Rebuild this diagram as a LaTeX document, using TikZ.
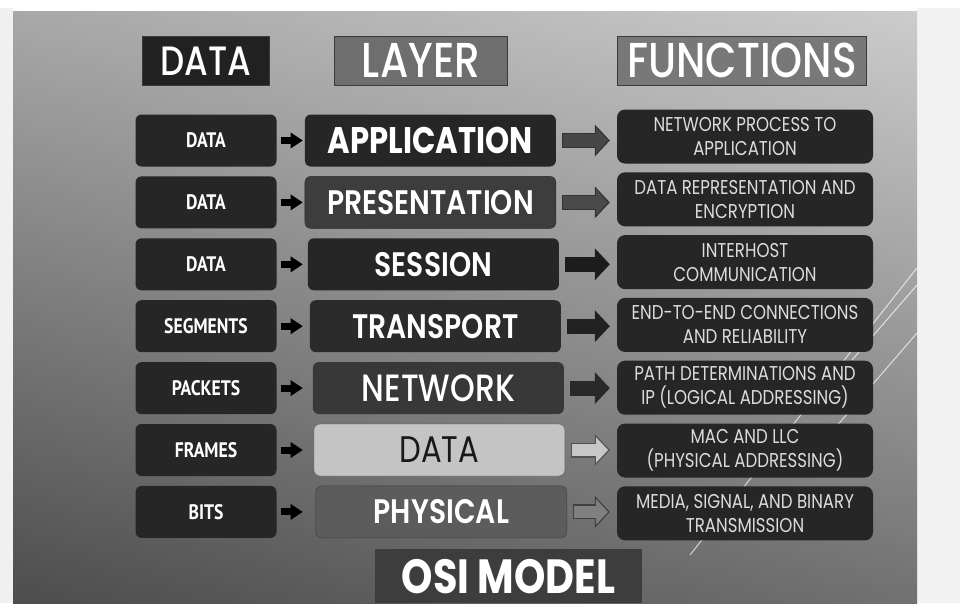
\documentclass[tikz,border=0pt]{standalone}
\usepackage{fontspec}
\setmainfont{Poppins}[FakeStretch=0.83]
\newfontfamily\medfont{Poppins Medium}[FakeStretch=0.83]
\newfontfamily\semifont{Poppins SemiBold}[FakeStretch=0.83]
\newfontfamily\unitfont{PT Sans}[FakeStretch=0.84]
\usepackage{xcolor}
\usetikzlibrary{positioning, arrows.meta}

\definecolor{slidetop}{HTML}{C4C4C4}
\definecolor{slidebot}{HTML}{5A5A5A}
\definecolor{boxdark}{HTML}{262626}
\definecolor{functext}{HTML}{DCDCDC}
\definecolor{headline}{HTML}{3A3A3A}
\definecolor{edgegray}{HTML}{333333}

\tikzset{
  unit/.style={fill=boxdark, rounded corners=6pt, minimum width=141pt, minimum height=52pt,
    inner sep=0pt, text=white, font=\unitfont\bfseries\fontsize{21}{24}\selectfont},
  layer/.style={rounded corners=6pt, minimum width=251pt, minimum height=52pt, inner sep=0pt,
    text=white, font=\semifont\fontsize{34}{40}\selectfont},
  func/.style={fill=boxdark, rounded corners=8pt, minimum width=256pt, minimum height=54pt,
    inner sep=0pt, text=functext, align=center, font=\fontsize{20}{24}\selectfont},
  title/.style={minimum height=49pt, inner sep=0pt, text=white, draw=headline, line width=1pt,
    font=\medfont\fontsize{49}{52}\selectfont},
  feed/.style={line width=7pt, -{Triangle[length=12pt,width=16pt,line width=0pt]}, shorten <=4pt},
  pass/.style={line width=15pt, -{Triangle[length=15pt,width=32pt,line width=0pt]},
    shorten <=6pt, shorten >=7pt},
  passin/.style={line width=12.4pt, -{Triangle[length=11.9pt,width=25.4pt,line width=0pt]},
    shorten <=7.3pt, shorten >=8.8pt}
}

\begin{document}
\begin{tikzpicture}[x=1pt, y=-1pt]
    \useasboundingbox (0,0) rectangle (960,603);
    % page and slide background
    \fill[white] (0,0) rectangle (960,603);
    \fill[gray!12] (0,8) rectangle (13,603);
    \fill[gray!10] (917,8) rectangle (960,603);
    \shade[top color=slidetop, bottom color=slidebot] (13,11) rectangle (917,603);
    \shade[left color=black, right color=white, opacity=0.14] (13,11) rectangle (917,603);
    \draw[white, line width=1pt, opacity=0.7] (917,268) -- (690,555);
    \draw[white, line width=1pt, opacity=0.7] (917,285) -- (852,360);
    \draw[white, line width=1pt, opacity=0.7] (917,333) -- (835,428);

		\node (d1) [unit] at (206,140.5) {DATA};
		\node[below=9.5pt of d1] (d2) [unit] {DATA};
		\node[below=9.5pt of d2] (d3) [unit] {DATA};
		\node[below=9.5pt of d3] (d4) [unit] {SEGMENTS};
		\node[below=9.5pt of d4] (d5) [unit] {PACKETS};
		\node[below=9.5pt of d5] (d6) [unit] {FRAMES};
		\node[below=9.5pt of d6] (d7) [unit] {BITS};

		\node[right=28pt of d1] (l1) [layer, fill=black!85, font=\bfseries\fontsize{37}{40}\selectfont] {APPLICATION};
		\node[right=28pt of d2] (l2) [layer, fill=black!76, draw=black!84] {PRESENTATION};
		\node[right=31pt of d3] (l3) [layer, fill=black!85] {SESSION};
		\node[right=33pt of d4] (l4) [layer, fill=black!83] {TRANSPORT};
		\node[right=36pt of d5] (l5) [layer, fill=black!78, font=\medfont\fontsize{38}{40}\selectfont] {NETWORK};
		\node[right=37pt of d6] (l6) [layer, fill=black!23, draw=black!65, text=black!90,
			font=\fontsize{37}{40}\selectfont] {DATA};
		\node[right=39pt of d7] (l7) [layer, fill=black!64, draw=black!76,
			font=\semifont\fontsize{34}{36}\selectfont] {PHYSICAL};

		\node (f1) [func] at (745,136.5) {NETWORK PROCESS TO\\APPLICATION};
		\node[below=8.4pt of f1] (f2) [func] {DATA REPRESENTATION AND\\ENCRYPTION};
		\node[below=8.4pt of f2] (f3) [func] {INTERHOST\\COMMUNICATION};
		\node[below=8.4pt of f3] (f4) [func] {END-TO-END CONNECTIONS\\AND RELIABILITY};
		\node[below=8.4pt of f4] (f5) [func] {PATH DETERMINATIONS AND\\IP (LOGICAL ADDRESSING)};
		\node[below=8.4pt of f5] (f6) [func] {MAC AND LLC\\(PHYSICAL ADDRESSING)};
		\node[below=8.4pt of f6] (f7) [func] {MEDIA, SIGNAL, AND BINARY\\TRANSMISSION};

		\node[above=28.5pt of d1] (hd) [title, fill=black!87, minimum width=127pt,
			font=\medfont\fontsize{41}{44}\selectfont] {DATA};
		\node[right=64pt of hd] (hl) [title, fill=black!57, minimum width=173pt] {LAYER};
		\node[right=109pt of hl] (hf) [title, fill=black!53, minimum width=249pt] {FUNCTIONS};

		\node (osi) [fill=black!76, minimum width=267pt, minimum height=54pt, inner sep=0pt,
			text=white, font=\bfseries\fontsize{48}{52}\selectfont, anchor=north] at (508.5,549) {OSI MODEL};

		\draw [feed, shorten >=2pt] (d1) -- (l1);
		\draw [feed, shorten >=2pt] (d2) -- (l2);
		\draw [feed, shorten >=5pt] (d3) -- (l3);
		\draw [feed, shorten >=7pt] (d4) -- (l4);
		\draw [feed, shorten >=10pt] (d5) -- (l5);
		\draw [feed, shorten >=11pt] (d6) -- (l6);
		\draw [feed, shorten >=13pt] (d7) -- (l7);

		\draw [pass, edgegray] (l1.east) -- (l1.east -| f1.west);
		\draw [passin, black!72] (l1.east) -- (l1.east -| f1.west);
		\draw [pass, edgegray] (l2.east) -- (l2.east -| f2.west);
		\draw [passin, black!71] (l2.east) -- (l2.east -| f2.west);
		\draw [pass, black!89] (l3.east) -- (l3.east -| f3.west);
		\draw [pass, black!87] (l4.east) -- (l4.east -| f4.west);
		\draw [pass, black!84] (l5.east) -- (l5.east -| f5.west);
		\draw [pass, black!68] (l6.east) -- (l6.east -| f6.west);
		\draw [passin, black!22] (l6.east) -- (l6.east -| f6.west);
		\draw [pass, black!75] (l7.east) -- (l7.east -| f7.west);
		\draw [passin, black!50] (l7.east) -- (l7.east -| f7.west);
	\end{tikzpicture}
\end{document}
